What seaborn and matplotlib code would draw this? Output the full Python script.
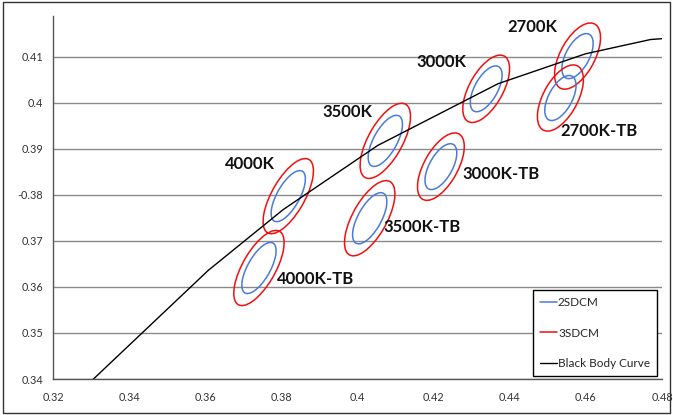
import matplotlib
matplotlib.use("Agg")
import matplotlib.pyplot as plt
from matplotlib.patches import Ellipse, Rectangle
from matplotlib.lines import Line2D
import pandas as pd
import seaborn as sns

# ellipse centres (CIE x, y), axes and rotation
ell_names = ["2700K", "3000K", "3500K", "4000K",
             "2700K-TB", "3000K-TB", "3500K-TB", "4000K-TB"]
ell_x = [0.4578, 0.4338, 0.4073, 0.3818, 0.4533, 0.4219, 0.4032, 0.3741]
ell_y = [0.4101, 0.4030, 0.3917, 0.3797, 0.4010, 0.3861, 0.3749, 0.3641]
ell_a = [0.00567, 0.00584, 0.00653, 0.00657, 0.00567, 0.00584, 0.00653, 0.00657]
ell_b = [0.00294, 0.00286, 0.00292, 0.00281, 0.00294, 0.00286, 0.00292, 0.00281]
ell_theta = [53.7, 53.2, 54.0, 53.7, 53.7, 53.2, 54.0, 53.7]
scale_3sdcm = 1.47

# label anchors
lab_x = [0.4393, 0.4156, 0.3909, 0.3652, 0.4532, 0.4275, 0.4067, 0.3789]
lab_y = [0.4164, 0.4088, 0.3979, 0.3866, 0.3938, 0.3846, 0.3729, 0.3618]

# black body curve
bb_x = [0.3200, 0.3608, 0.3805, 0.4053, 0.4369, 0.4599, 0.4770, 0.5018]
bb_y = [0.3317, 0.3636, 0.3768, 0.3907, 0.4041, 0.4106, 0.4137, 0.4152]

x_ticks = [0.32, 0.34, 0.36, 0.38, 0.40, 0.42, 0.44, 0.46, 0.48]
x_labels = ["0.32", "0.34", "0.36", "0.38", "0.4", "0.42", "0.44", "0.46", "0.48"]
y_ticks = [0.34, 0.35, 0.36, 0.37, 0.38, 0.39, 0.40, 0.41]
y_labels = ["0.34", "0.35", "0.36", "0.37", "-0.38", "0.39", "0.4", "0.41"]

sns.set_style("white")
plt.rcParams["font.family"] = ["Lato", "DejaVu Sans"]

fig = plt.figure(figsize=(6.73, 4.15), dpi=100)
ax = fig.add_axes([0.0788, 0.0867, 0.9049, 0.8747])

blue = "#4a7bd8"
red = "#f01010"

bb = pd.DataFrame({"x": bb_x, "y": bb_y})
sns.lineplot(data=bb, x="x", y="y", sort=False, color="black", lw=1.0, ax=ax)

for i in range(len(ell_names)):
    ax.add_patch(Ellipse((ell_x[i], ell_y[i]), 2 * ell_a[i], 2 * ell_b[i],
                         angle=ell_theta[i], fill=False, ec=blue, lw=1.1))
    ax.add_patch(Ellipse((ell_x[i], ell_y[i]), 2 * ell_a[i] * scale_3sdcm,
                         2 * ell_b[i] * scale_3sdcm, angle=ell_theta[i],
                         fill=False, ec=red, lw=1.1))
    ax.text(lab_x[i], lab_y[i], ell_names[i], ha="left", va="center",
            fontsize=12, fontweight="bold", color="#111111")

ax.set_xlim(0.32, 0.48)
ax.set_ylim(0.34, 0.4188)
ax.set_xticks(x_ticks)
ax.set_xticklabels(x_labels)
ax.set_yticks(y_ticks)
ax.set_yticklabels(y_labels)
ax.set_xlabel("")
ax.set_ylabel("")
ax.tick_params(axis="both", direction="out", length=4, width=1, color="#555555",
               labelsize=7.8, labelcolor="#333333", pad=3)
ax.tick_params(axis="x", pad=5)
ax.yaxis.grid(True, color="#8a8a8a", lw=1)
ax.xaxis.grid(False)
for side in ["top", "right"]:
    ax.spines[side].set_visible(False)
for side in ["left", "bottom"]:
    ax.spines[side].set_color("#555555")
    ax.spines[side].set_linewidth(1)

handles = [Line2D([], [], color=blue, lw=1.1),
           Line2D([], [], color=red, lw=1.1),
           Line2D([], [], color="black", lw=1.0)]
leg = ax.legend(handles, ["2SDCM", "3SDCM", "Black Body Curve"],
                loc="lower right", bbox_to_anchor=(0.992, 0.008), borderaxespad=0,
                fontsize=8.5, frameon=True, fancybox=False, framealpha=1,
                edgecolor="black", handlelength=1.4, handletextpad=0.1,
                labelspacing=1.65, borderpad=0.6)
leg.get_frame().set_linewidth(1)

fig.patches.append(Rectangle((0.005, 0.006), 0.99, 0.988, transform=fig.transFigure,
                             fill=False, ec="#333333", lw=1))

fig.savefig("out.png", dpi=100)
